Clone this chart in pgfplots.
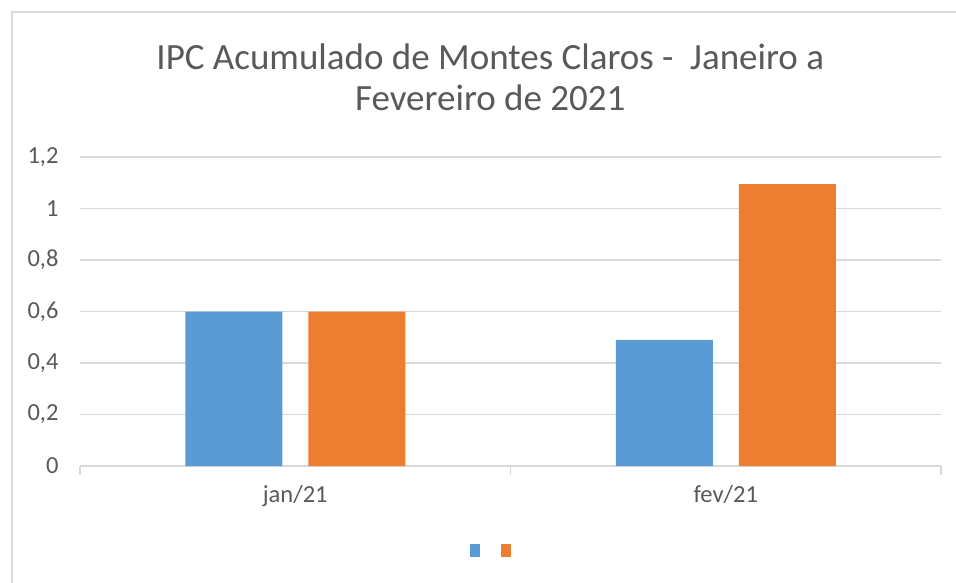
\documentclass[border=0pt]{standalone}
\usepackage{pgfplots}
\pgfplotsset{compat=1.18}
\usepackage{fontspec}
\setmainfont{Carlito}
\definecolor{cblue}{HTML}{5B9BD5}
\definecolor{corange}{HTML}{ED7D31}
\definecolor{ctext}{HTML}{595959}
\definecolor{cgrid}{HTML}{D9D9D9}
\begin{document}
\begin{tikzpicture}[x=1pt,y=1pt]
\useasboundingbox (0,0) rectangle (956,582);
\draw[cgrid, line width=1.5pt] (12,-5) -- (12,570) -- (962,570);
\begin{axis}[
  at={(80pt,116pt)}, anchor=south west,
  scale only axis, width=861pt, height=309pt,
  xmin=-0.5, xmax=1.5, ymin=0, ymax=1.2,
  ybar=26pt, bar width=97pt,
  xtick={-0.5,0.5,1.5}, xticklabels={},
  xtick style={draw=cgrid, line width=1.2pt},
  major tick length=9pt,
  extra x ticks={0,1}, extra x tick labels={jan/21,fev/21},
  extra x tick style={grid=none, major tick length=0pt, xtick style={draw=none}},
  xtick align=outside,
  ytick={0,0.2,...,1.2},
  ymajorgrids, grid style={cgrid, line width=1.2pt},
  ytick style={draw=none},
  axis y line*=left, y axis line style={draw=none},
  axis x line*=bottom, x axis line style={cgrid, line width=1.2pt, -},
  tick label style={font=\fontsize{24.5}{28}\selectfont, text=ctext},
  yticklabel style={xshift=-18pt},
  xticklabel style={yshift=-16pt},
  /pgf/number format/.cd, use comma, fixed, precision=1, assume math mode=true,
  /pgfplots/.cd,
  title={IPC Acumulado de Montes Claros -\ \ Janeiro a\\Fevereiro de 2021},
  title style={font=\fontsize{37}{41}\selectfont, text=ctext, align=center, at={(0.4765,1.239)}, anchor=center},
  legend columns=2,
  legend style={draw=none, fill=none, at={(0.489,-0.275)}, anchor=center, nodes={inner sep=0pt}, /tikz/every even column/.append style={column sep=0pt}, /tikz/every odd column/.append style={column sep=20pt}},
  legend image code/.code={\fill[#1, draw=none] (0pt,-6.5pt) rectangle (10pt,6.5pt);},
]
\addplot[fill=cblue, draw=none] coordinates {(0,0.6) (1,0.49)};
\addplot[fill=corange, draw=none] coordinates {(0,0.6) (1,1.095)};
\addlegendentry{}
\addlegendentry{}
\end{axis}
\end{tikzpicture}
\end{document}
